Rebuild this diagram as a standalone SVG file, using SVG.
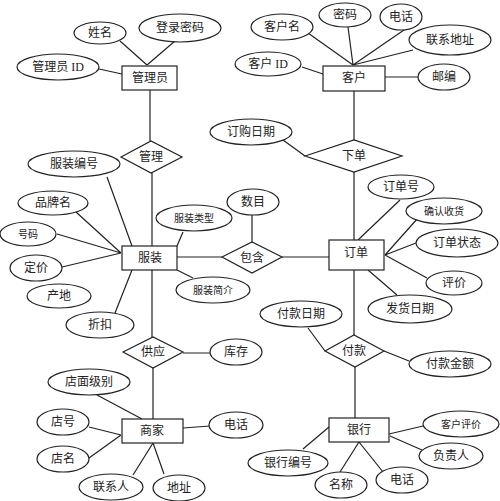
<svg xmlns="http://www.w3.org/2000/svg" width="500" height="501" viewBox="0 0 500 501">
<style>
.s{fill:#fff;stroke:#222;stroke-width:1.2}
.l{stroke:#222;stroke-width:1.2;fill:none}
text{font-family:"Liberation Serif","Noto Sans CJK SC",serif;font-size:12px;fill:#222;text-anchor:middle;dominant-baseline:central}
.sm{font-size:10px}
</style>
<rect width="500" height="501" fill="#fff"/>
<g id="connectors">
<path class="l" d="M120,41L147,65M175,41L147,65M99,69L122,74M150,90V141"/>
<path class="l" d="M308,33L353,65M348,27L353,65M404,30L353,65M413,50L353,65M302,67L323,74M385,77H418M354,91V140M283,140L305,156"/>
<path class="l" d="M152,173V246M107,177L132,246M76,212L121,253M57,234L121,253M62,267L121,253M115,313L132,270M183,232L177,246M177,270L193,278M177,257H222M152,270V337"/>
<path class="l" d="M252,215V242M282,257H329M354,172V240M400,200L358,240M418,218L385,255M416,243L385,255M427,278L385,255M368,270L397,295M354,270V335"/>
<path class="l" d="M308,328L325,351M384,351L409,361M355,367V418M389,434L423,426M390,436L422,450M303,449L329,427M359,442L340,472M359,442L383,472"/>
<path class="l" d="M183,353H210M153,368V419M97,395L142,419M89,427L121,435M89,458L121,435M153,443L133,475M153,443L164,474M183,428L210,426"/>
</g>
<g id="n-admin"><rect class="s" x="122" y="66" width="55" height="24"/><text x="150" y="78">管理员</text></g>
<g id="a-name"><ellipse class="s" cx="100" cy="33" rx="26" ry="11"/><text x="100" y="33">姓名</text></g>
<g id="a-pwd"><ellipse class="s" cx="180" cy="28" rx="41" ry="14"/><text x="180" y="28">登录密码</text></g>
<g id="a-adminid"><ellipse class="s" cx="58" cy="67" rx="41" ry="13"/><text x="58" y="67">管理员 ID</text></g>
<g id="r-manage"><polygon class="s" points="121,157 151,141 182,157 151,173"/><text x="151" y="157">管理</text></g>
<g id="n-customer"><rect class="s" x="323" y="66" width="62" height="25"/><text x="354" y="78">客户</text></g>
<g id="a-cname"><ellipse class="s" cx="282" cy="27" rx="31" ry="13"/><text x="282" y="27">客户名</text></g>
<g id="a-cpwd"><ellipse class="s" cx="345" cy="15" rx="26" ry="12"/><text x="345" y="15">密码</text></g>
<g id="a-ctel"><ellipse class="s" cx="401" cy="17" rx="21" ry="13"/><text x="401" y="17">电话</text></g>
<g id="a-caddr"><ellipse class="s" cx="450" cy="40" rx="41" ry="15"/><text x="450" y="40">联系地址</text></g>
<g id="a-cid"><ellipse class="s" cx="268" cy="64" rx="33" ry="12"/><text x="268" y="64">客户 ID</text></g>
<g id="a-zip"><ellipse class="s" cx="444" cy="77" rx="26" ry="13"/><text x="444" y="77">邮编</text></g>
<g id="a-odate"><ellipse class="s" cx="251" cy="132" rx="41" ry="13"/><text x="251" y="132">订购日期</text></g>
<g id="r-order"><polygon class="s" points="305,156 354,140 402,156 354,172"/><text x="354" y="156">下单</text></g>
<g id="n-cloth"><rect class="s" x="122" y="246" width="55" height="24"/><text x="150" y="258">服装</text></g>
<g id="a-cno"><ellipse class="s" cx="74" cy="164" rx="46" ry="13"/><text x="74" y="164">服装编号</text></g>
<g id="a-brand"><ellipse class="s" cx="53" cy="203" rx="35" ry="12"/><text x="53" y="203">品牌名</text></g>
<g id="a-size"><ellipse class="s" cx="28" cy="234" rx="28" ry="12"/><text x="28" y="234" class="sm">号码</text></g>
<g id="a-price"><ellipse class="s" cx="36" cy="268" rx="26" ry="13"/><text x="36" y="268">定价</text></g>
<g id="a-origin"><ellipse class="s" cx="59" cy="296" rx="32" ry="12"/><text x="59" y="296">产地</text></g>
<g id="a-disc"><ellipse class="s" cx="100" cy="325" rx="34" ry="13"/><text x="100" y="325">折扣</text></g>
<g id="a-ctype"><ellipse class="s" cx="194" cy="218" rx="38" ry="13"/><text x="194" y="218" class="sm">服装类型</text></g>
<g id="a-cintro"><ellipse class="s" cx="213" cy="290" rx="37" ry="13"/><text x="213" y="290" class="sm">服装简介</text></g>
<g id="a-qty"><ellipse class="s" cx="253" cy="202" rx="26" ry="13"/><text x="253" y="202">数目</text></g>
<g id="r-contain"><polygon class="s" points="222,257 252,242 282,257 252,273"/><text x="252" y="258">包含</text></g>
<g id="n-orderE"><rect class="s" x="329" y="240" width="55" height="30"/><text x="356" y="253">订单</text></g>
<g id="a-ono"><ellipse class="s" cx="401" cy="187" rx="33" ry="12"/><text x="401" y="187">订单号</text></g>
<g id="a-confirm"><ellipse class="s" cx="444" cy="211" rx="38" ry="13"/><text x="444" y="211" class="sm">确认收货</text></g>
<g id="a-ostate"><ellipse class="s" cx="457" cy="243" rx="41" ry="14"/><text x="457" y="243">订单状态</text></g>
<g id="a-review"><ellipse class="s" cx="454" cy="283" rx="28" ry="12"/><text x="454" y="283">评价</text></g>
<g id="a-ship"><ellipse class="s" cx="410" cy="309" rx="42" ry="14"/><text x="410" y="309">发货日期</text></g>
<g id="r-pay"><polygon class="s" points="325,351 354,335 384,351 355,367"/><text x="354" y="351">付款</text></g>
<g id="a-pdate"><ellipse class="s" cx="301" cy="314" rx="41" ry="13"/><text x="301" y="314">付款日期</text></g>
<g id="a-pamt"><ellipse class="s" cx="450" cy="364" rx="41" ry="13"/><text x="450" y="364">付款金额</text></g>
<g id="n-bank"><rect class="s" x="329" y="418" width="60" height="24"/><text x="359" y="430">银行</text></g>
<g id="a-crev"><ellipse class="s" cx="461" cy="424" rx="38" ry="13"/><text x="461" y="424" class="sm">客户评价</text></g>
<g id="a-resp"><ellipse class="s" cx="451" cy="456" rx="32" ry="13"/><text x="451" y="456">负责人</text></g>
<g id="a-bno"><ellipse class="s" cx="288" cy="463" rx="40" ry="13"/><text x="288" y="463">银行编号</text></g>
<g id="a-bname"><ellipse class="s" cx="341" cy="485" rx="26" ry="13"/><text x="341" y="485">名称</text></g>
<g id="a-btel"><ellipse class="s" cx="402" cy="480" rx="26" ry="13"/><text x="402" y="480">电话</text></g>
<g id="r-supply"><polygon class="s" points="123,352 153,337 183,352 153,368"/><text x="153" y="352">供应</text></g>
<g id="a-stock"><ellipse class="s" cx="236" cy="352" rx="26" ry="13"/><text x="236" y="352">库存</text></g>
<g id="n-merchant"><rect class="s" x="122" y="419" width="61" height="24"/><text x="152" y="431">商家</text></g>
<g id="a-level"><ellipse class="s" cx="89" cy="382" rx="41" ry="13"/><text x="89" y="382">店面级别</text></g>
<g id="a-sno"><ellipse class="s" cx="63" cy="422" rx="26" ry="13"/><text x="63" y="422">店号</text></g>
<g id="a-sname"><ellipse class="s" cx="63" cy="459" rx="26" ry="13"/><text x="63" y="459">店名</text></g>
<g id="a-contact"><ellipse class="s" cx="111" cy="487" rx="32" ry="13"/><text x="111" y="487">联系人</text></g>
<g id="a-maddr"><ellipse class="s" cx="179" cy="488" rx="26" ry="13"/><text x="179" y="488">地址</text></g>
<g id="a-mtel"><ellipse class="s" cx="236" cy="425" rx="27" ry="13"/><text x="236" y="425">电话</text></g>
</svg>
